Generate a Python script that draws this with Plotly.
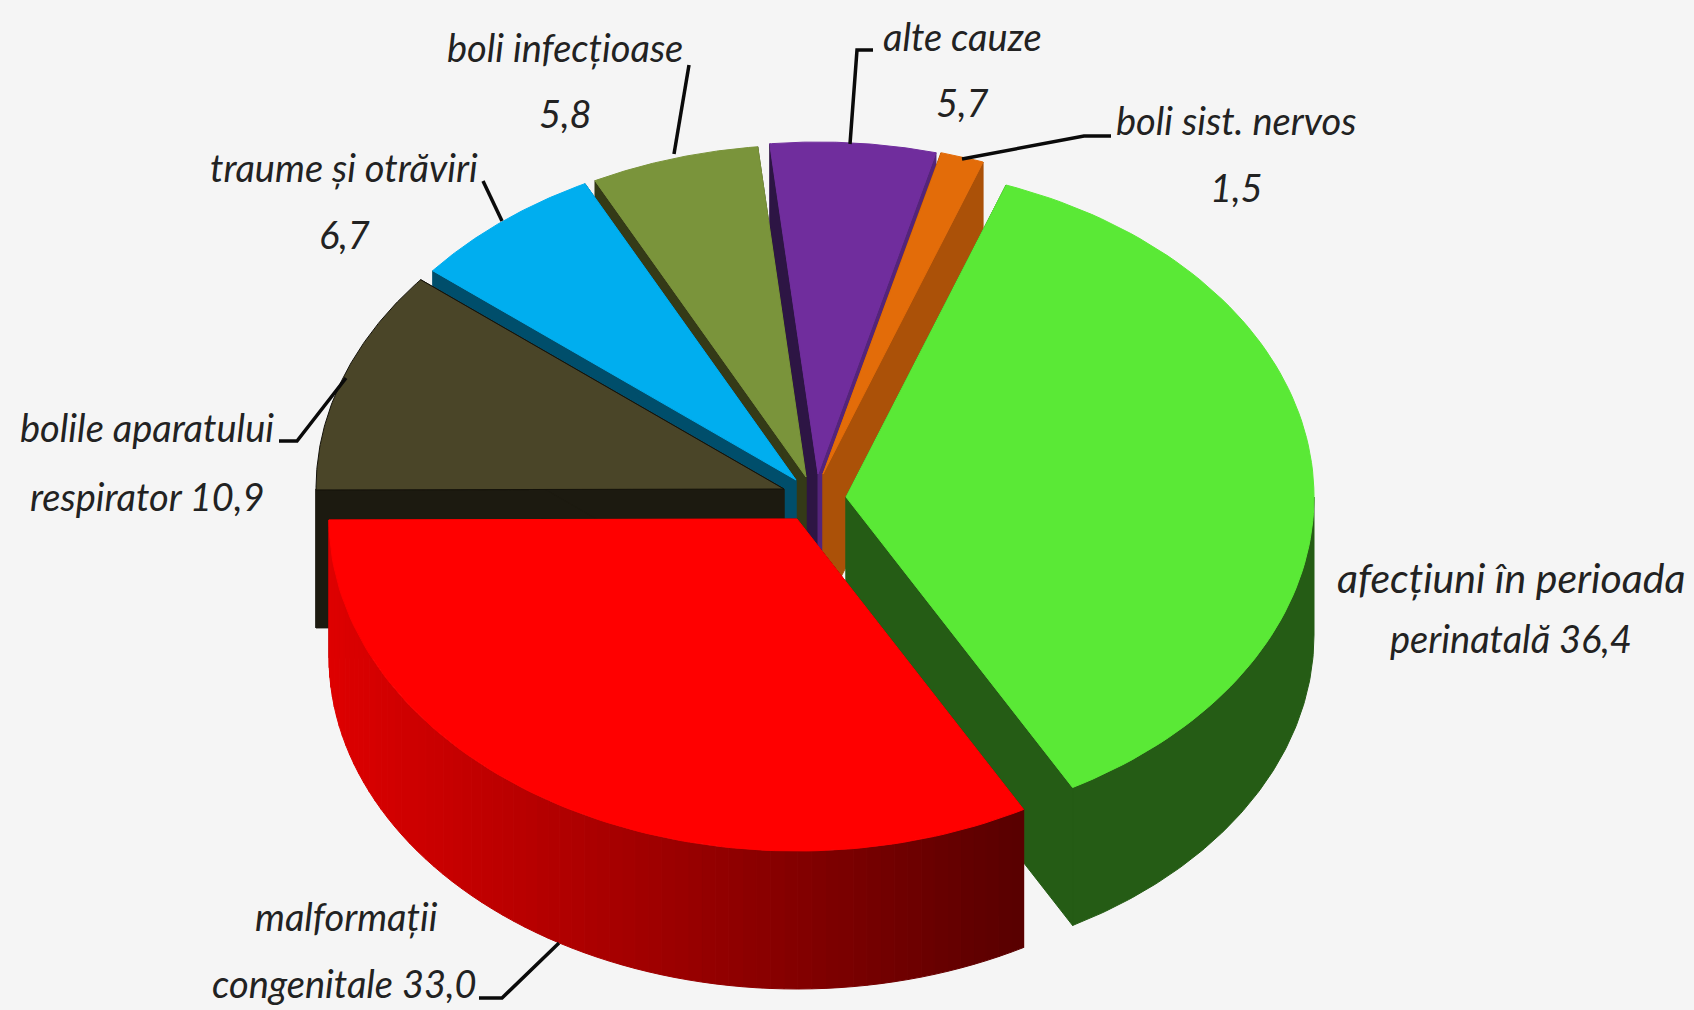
import math
import plotly.graph_objects as go

# ---- data ----
categories = ["afecțiuni în perioada perinatală", "malformații congenitale",
              "bolile aparatului respirator", "traume și otrăviri",
              "boli infecțioase", "alte cauze", "boli sist. nervos"]
values = [36.4, 33.0, 10.9, 6.7, 5.8, 5.7, 1.5]

# ---- styling ----
top_colors = ["#5AE936", "#FF0000", "#4A4528", "#00AEEF", "#7A943B", "#702D9D", "#E36C09"]
start_face = ["#255C15", "#7A0000", "#1C1A10", "#004E6B", "#343A17", "#2D1544", "#AB5108"]
end_face = ["#255C15", "#7A0000", "#1C1A10", "#004E6B", "#343A17", "#54247A", "#AB5108"]
rim_colors = ["#255C15", None, "#1C1A10", "#004E6B", "#343A17", "#2D1544", "#AB5108"]
apex_x = [846, 797, 784, 796, 806, 818, 823]
apex_y = [497, 519, 489, 480, 477, 474, 474]
paint_order = [5, 6, 4, 3, 2, 0, 1]
FIRST_ANGLE = 20.0
RX, RY, DEPTH = 468, 332, 138
BG = "#F5F5F5"
INK = "#222222"

fig = go.Figure()


def px(cx, t):
    return cx + RX * math.sin(math.radians(t))


def py(cy, t):
    return cy - RY * math.cos(math.radians(t))


def poly(xs, ys, color, outline=None):
    fig.add_trace(go.Scatter(
        x=xs + xs[:1], y=ys + ys[:1], mode="lines", fill="toself", fillcolor=color,
        line=dict(color=outline or color, width=1), hoverinfo="skip", showlegend=False))


def arc(t0, t1, n=90):
    return [t0 + (t1 - t0) * k / n for k in range(n + 1)]


starts = []
acc = FIRST_ANGLE
for v in values:
    starts.append(acc)
    acc += v * 3.6

for i in paint_order:
    t0, t1 = starts[i], starts[i] + values[i] * 3.6
    cx, cy = apex_x[i], apex_y[i]
    # cut faces, extruded straight down
    for t, col in ((t0, start_face[i]), (t1, end_face[i])):
        poly([cx, px(cx, t), px(cx, t), cx],
             [cy, py(cy, t), py(cy, t) + DEPTH, cy + DEPTH], col)
    # outer wall: only the part facing the viewer
    lo, hi = max(t0, 90), min(t1, 270)
    if hi > lo:
        if rim_colors[i] is not None:
            a = arc(lo, hi)
            poly([px(cx, t) for t in a] + [px(cx, t) for t in reversed(a)],
                 [py(cy, t) for t in a] + [py(cy, t) + DEPTH for t in reversed(a)],
                 rim_colors[i])
        else:
            # shaded wall: dark on the right, brighter on the left
            steps = 70
            xr, xl = px(cx, lo), px(cx, hi)
            for k in range(steps):
                a = arc(lo + (hi - lo) * k / steps, lo + (hi - lo) * (k + 1) / steps, 3)
                xm = px(cx, a[1])
                f = (xm - xl) / (xr - xl)
                shade = int(round(222 - 134 * f))
                c = f"rgb({shade},0,0)"
                poly([px(cx, t) for t in a] + [px(cx, t) for t in reversed(a)],
                     [py(cy, t) for t in a] + [py(cy, t) + DEPTH for t in reversed(a)], c)
    # top face
    a = arc(t0, t1)
    poly([cx] + [px(cx, t) for t in a], [cy] + [py(cy, t) for t in a], top_colors[i],
         "#14120A" if i == 2 else None)

# ---- leader lines ----
leaders = [
    ([483, 502], [181, 221]),
    ([689, 674], [65, 154]),
    ([873, 857, 850], [50, 50, 144]),
    ([1111, 1084, 962], [136, 136, 159]),
    ([279, 297, 346], [441, 441, 378]),
    ([479, 502, 559], [998, 998, 943]),
]
for lx, ly in leaders:
    fig.add_trace(go.Scatter(x=lx, y=ly, mode="lines", line=dict(color="#0A0A0A", width=3.5),
                             hoverinfo="skip", showlegend=False))

# ---- labels ----
label_text = ["boli infecțioase", "5,8", "alte cauze", "5,7", "boli sist. nervos", "1,5",
              "traume și otrăviri", "6,7", "bolile aparatului", "respirator 10,9",
              "afecțiuni în perioada", "perinatală 36,4", "malformații", "congenitale 33,0"]
label_x = [565, 565, 962, 962, 1236, 1236, 344, 344, 147, 147, 1511, 1511, 346, 344]
label_y = [47, 113, 36, 102, 120, 187, 167, 234, 427, 496, 577, 638, 916, 983]
label_size = [38, 38, 38, 38, 38, 38, 38, 38, 38, 38, 41, 38, 38, 38]
for s, x, y, sz in zip(label_text, label_x, label_y, label_size):
    fig.add_annotation(x=x, y=y, text=f"<i>{s}</i>", showarrow=False, xanchor="center",
                       yanchor="middle",
                       font=dict(family="Lato, Liberation Sans", size=sz, color=INK))

fig.update_xaxes(range=[0, 1694], visible=False, fixedrange=True)
fig.update_yaxes(range=[1010, 0], visible=False, fixedrange=True)
fig.update_layout(width=1694, height=1010, margin=dict(l=0, r=0, t=0, b=0),
                  paper_bgcolor=BG, plot_bgcolor=BG, showlegend=False)
fig.write_html("out.html", config={"displayModeBar": False},
               post_script="document.body.style.margin='0';document.body.style.background='#F5F5F5';")
